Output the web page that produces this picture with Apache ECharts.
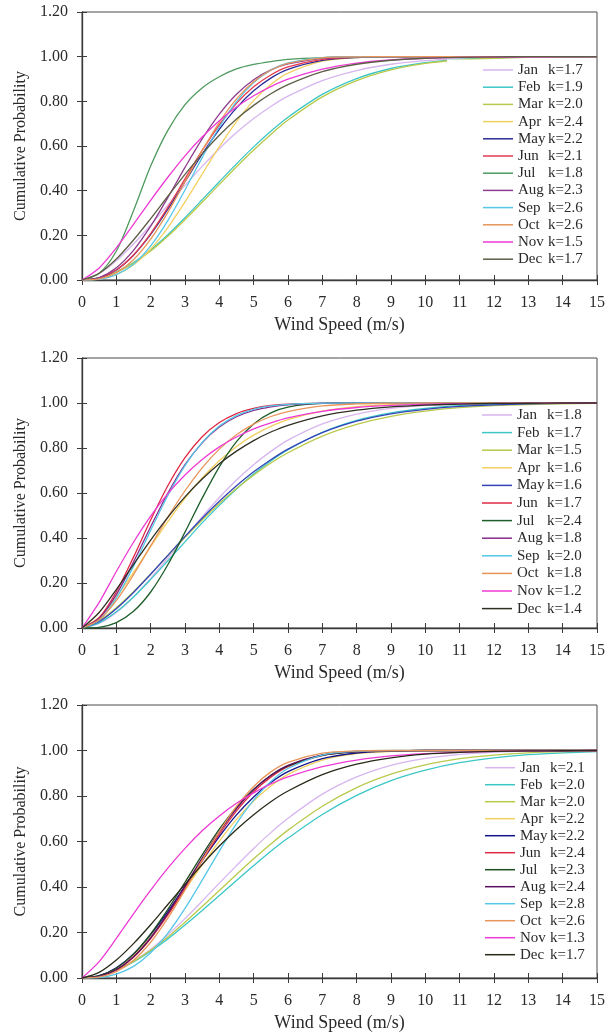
<!DOCTYPE html>
<html><head><meta charset="utf-8">
<script src="https://cdn.jsdelivr.net/npm/echarts@6/dist/echarts.min.js"></script>
<style>html,body{margin:0;padding:0;background:#fff}#c{width:608px;height:1034px}</style>
</head><body><div id="c"></div>
<script>
// ---- data ----
const windSpeed = [0,0.5,1,1.5,2,2.5,3,3.5,4,4.5,5,5.5,6,7,8,9,10,11,12,13,14,15];
const months = ['Jan','Feb','Mar','Apr','May','Jun','Jul','Aug','Sep','Oct','Nov','Dec'];
const xTicks = [0,1,2,3,4,5,6,7,8,9,10,11,12,13,14,15];
const yTicks = [0.00,0.20,0.40,0.60,0.80,1.00,1.20];

const kLabels1 = ['1.7','1.9','2.0','2.4','2.2','2.1','1.8','2.3','2.6','2.6','1.5','1.7'];
const kLabels2 = ['1.8','1.7','1.5','1.6','1.6','1.7','2.4','1.8','2.0','1.8','1.2','1.4'];
const kLabels3 = ['2.1','2.0','2.0','2.2','2.2','2.4','2.3','2.4','2.8','2.6','1.3','1.7'];

// panel 1
const p1Jan = [0,.028,.086,.161,.246,.335,.424,.509,.588,.660,.723,.777,.823,.893,.938,.966,.982,.991,.996,.998,.999,1];
const p1Feb = [0,.009,.036,.078,.135,.203,.279,.359,.440,.520,.596,.666,.729,.831,.902,.947,.973,.988,.995,.998,.999,1];
const p1Mar = [0,.009,.034,.076,.130,.196,.270,.348,.428,.507,.582,.652,.716,.820,.893,.941,.970,.985,.993,.997,.999,1];
const p1Apr = [0,.004,.024,.068,.139,.235,.350,.474,.597,.709,.803,.875,.926,.980,.996,.999,1,1,1,1,1,1];
const p1May = [0,.009,.045,.111,.204,.317,.440,.563,.675,.771,.847,.904,.943,.983,.996,.999,1,1,1,1,1,1];
const p1Jun = [0,.009,.045,.112,.208,.325,.453,.580,.695,.791,.865,.918,.954,.988,.998,1,1,1,1,1,1,1];
const p1Jul = [0,.030,.130,.310,.510,.670,.785,.860,.910,.945,.965,.978,.988,.996,.999,1,1,1,1,1,1,1];
const p1Aug = [0,.011,.055,.133,.241,.369,.504,.632,.743,.832,.897,.941,.968,.993,.999,1,1,1,1,1,1,1];
const p1Sep = [0,.003,.024,.071,.153,.266,.403,.548,.685,.799,.884,.940,.972,.996,1,1,1,1,1,1,1,1];
const p1Oct = [0,.005,.033,.091,.183,.303,.440,.579,.706,.811,.888,.939,.970,.995,.999,1,1,1,1,1,1,1];
const p1Nov = [0,.054,.144,.249,.357,.460,.556,.640,.713,.775,.825,.866,.899,.944,.971,.985,.993,.997,.998,.999,1,1];
const p1Dec = [0,.030,.094,.179,.275,.375,.473,.565,.648,.721,.782,.834,.875,.933,.966,.984,.993,.997,.999,1,1,1];

// panel 2
const p2Jan = [0,.020,.069,.138,.220,.311,.403,.494,.580,.658,.726,.785,.835,.907,.951,.976,.989,.995,.998,.999,1,1];
const p2Feb = [0,.023,.072,.138,.216,.299,.383,.467,.545,.618,.684,.742,.792,.870,.923,.956,.976,.988,.994,.997,.999,1];
const p2Mar = [0,.032,.090,.161,.240,.322,.403,.480,.553,.620,.679,.733,.779,.853,.905,.941,.964,.979,.988,.993,.996,.998];
const p2Apr = [0,.048,.138,.247,.362,.473,.576,.667,.743,.807,.857,.896,.926,.964,.984,.993,.997,.999,1,1,1,1];
const p2May = [0,.029,.086,.158,.239,.323,.407,.488,.563,.632,.694,.748,.795,.868,.919,.952,.972,.985,.992,.996,.998,.999];
const p2Jun = [0,.046,.161,.315,.480,.632,.757,.850,.913,.953,.976,.989,.995,.999,1,1,1,1,1,1,1,1];
const p2Jul = [0,.003,.024,.074,.160,.281,.426,.577,.716,.828,.907,.956,.982,.998,1,1,1,1,1,1,1,1];
const p2Aug = [0,.042,.148,.293,.450,.599,.726,.823,.893,.939,.967,.983,.992,.998,1,1,1,1,1,1,1,1];
const p2Sep = [0,.035,.133,.274,.434,.589,.722,.825,.898,.944,.972,.987,.994,.999,1,1,1,1,1,1,1,1];
const p2Oct = [0,.037,.122,.237,.365,.493,.610,.712,.795,.859,.906,.940,.962,.987,.996,.999,1,1,1,1,1,1];
const p2Nov = [0,.114,.251,.381,.497,.597,.680,.749,.805,.849,.885,.912,.934,.963,.980,.989,.994,.997,.998,.999,1,1];
const p2Dec = [0,.069,.171,.282,.391,.492,.583,.662,.730,.786,.833,.871,.901,.943,.968,.983,.991,.995,.998,.999,1,1];

// panel 3
const p3Jan = [0,.008,.033,.073,.126,.190,.261,.338,.417,.494,.569,.639,.702,.808,.884,.935,.965,.983,.992,.997,.999,1];
const p3Feb = [0,.010,.034,.071,.118,.172,.233,.297,.363,.429,.494,.557,.615,.719,.803,.868,.914,.947,.968,.982,.990,.995];
const p3Mar = [0,.009,.034,.073,.122,.180,.245,.314,.385,.455,.524,.589,.650,.755,.837,.896,.937,.964,.980,.990,.995,.997];
const p3Apr = [0,.009,.043,.101,.182,.280,.387,.497,.602,.697,.778,.844,.895,.958,.986,.996,.999,1,1,1,1,1];
const p3May = [0,.010,.045,.106,.191,.292,.404,.516,.622,.717,.796,.859,.907,.964,.989,.997,1,1,1,1,1,1];
const p3Jun = [0,.007,.035,.091,.173,.277,.394,.516,.632,.735,.819,.883,.929,.978,.995,.999,1,1,1,1,1,1];
const p3Jul = [0,.009,.043,.105,.194,.302,.421,.541,.654,.751,.830,.890,.932,.979,.995,.999,1,1,1,1,1,1];
const p3Aug = [0,.007,.036,.093,.177,.284,.404,.527,.643,.745,.828,.891,.935,.981,.996,.999,1,1,1,1,1,1];
const p3Sep = [0,.002,.017,.051,.111,.197,.306,.430,.558,.679,.782,.864,.921,.980,.997,1,1,1,1,1,1,1];
const p3Oct = [0,.005,.028,.078,.157,.263,.387,.518,.644,.754,.842,.906,.948,.988,.998,1,1,1,1,1,1,1];
const p3Nov = [0,.072,.174,.282,.386,.483,.570,.647,.712,.768,.814,.853,.884,.929,.958,.976,.986,.992,.996,.998,.999,1];
const p3Dec = [0,.025,.079,.151,.234,.323,.412,.499,.580,.653,.718,.775,.822,.894,.940,.968,.984,.992,.996,.998,.999,1];

const panel1 = [p1Jan,p1Feb,p1Mar,p1Apr,p1May,p1Jun,p1Jul,p1Aug,p1Sep,p1Oct,p1Nov,p1Dec];
const panel2 = [p2Jan,p2Feb,p2Mar,p2Apr,p2May,p2Jun,p2Jul,p2Aug,p2Sep,p2Oct,p2Nov,p2Dec];
const panel3 = [p3Jan,p3Feb,p3Mar,p3Apr,p3May,p3Jun,p3Jul,p3Aug,p3Sep,p3Oct,p3Nov,p3Dec];

// ---- styles ----
const colors1 = ['#D7B5EE','#3CC6C6','#B9C94A','#F2D060','#2B2B96','#E53950','#4E9A5E','#8E3E8E','#55C7E8','#E8955A','#EE3AD4','#5E5E48'];
const colors2 = ['#D7B5EE','#3CC6C6','#B9C94A','#F2D060','#3444B8','#E02845','#1D5E2A','#8A2A8A','#55C7E8','#E8955A','#EE3AD4','#2F2F22'];
const colors3 = ['#D7B5EE','#3CC6C6','#B9C94A','#F2D060','#14148A','#E02845','#1E4D1E','#5B0F62','#55C7E8','#E8955A','#EE3AD4','#2A2A1A'];

const FONT = '"Liberation Serif", "Times New Roman", serif';
const TXT = '#2a2a2a';
const AX = '#3a3a3a';

const panels = [
  {data: panel1, k: kLabels1, colors: colors1, top: 12, height: 268,
   legend: {left: 447, top: 59.4, rowH: 17.2, padding: [2, 1, 2, 36], bg: '#ffffff'}},
  {data: panel2, k: kLabels2, colors: colors2, top: 358, height: 270,
   legend: {left: 482, top: 406.2, rowH: 17.6, padding: 0, bg: 'transparent'}},
  {data: panel3, k: kLabels3, colors: colors3, top: 705, height: 273,
   legend: {left: 485, top: 759.2, rowH: 17.0, padding: 0, bg: 'transparent'}}
];

const grid = [], xAxis = [], yAxis = [], legend = [], series = [];
panels.forEach((P, p) => {
  grid.push({left: 82, width: 515, top: P.top, height: P.height, show: true,
    borderColor: '#4a4a4a', borderWidth: 1, backgroundColor: 'transparent'});
  const xBase = {type: 'value', gridIndex: p, min: xTicks[0], max: xTicks[xTicks.length-1], interval: 1,
    position: 'bottom', splitLine: {show: false}};
  xAxis.push(Object.assign({}, xBase, {
    axisLine: {show: true, lineStyle: {color: AX, width: 1.3}},
    axisTick: {show: true, inside: false, length: 5, lineStyle: {color: AX, width: 1}},
    axisLabel: {fontFamily: FONT, fontSize: 16, color: TXT, margin: 15},
    name: 'Wind Speed (m/s)', nameLocation: 'middle', nameGap: 36,
    nameTextStyle: {fontFamily: FONT, fontSize: 18, color: TXT}
  }));
  xAxis.push(Object.assign({}, xBase, {
    axisLine: {show: false},
    axisTick: {show: true, inside: true, length: 5, lineStyle: {color: AX, width: 1}},
    axisLabel: {show: false}
  }));
  const yBase = {type: 'value', gridIndex: p, min: yTicks[0], max: yTicks[yTicks.length-1], interval: 0.2,
    position: 'left', splitLine: {show: false}};
  yAxis.push(Object.assign({}, yBase, {
    axisLine: {show: true, lineStyle: {color: AX, width: 1.3}},
    axisTick: {show: true, inside: false, length: 5, lineStyle: {color: AX, width: 1}},
    axisLabel: {fontFamily: FONT, fontSize: 16, color: TXT, margin: 14, formatter: v => v.toFixed(2)},
    name: 'Cumulative Probability', nameLocation: 'middle', nameGap: 53,
    nameTextStyle: {fontFamily: FONT, fontSize: 16, color: TXT}
  }));
  yAxis.push(Object.assign({}, yBase, {
    axisLine: {show: false},
    axisTick: {show: true, inside: true, length: 5, lineStyle: {color: AX, width: 1}},
    axisLabel: {show: false}
  }));

  const suffix = ' '.repeat(p);
  const names = months.map(m => m + suffix);
  const L = P.legend;
  legend.push({
    show: true, orient: 'vertical', left: L.left, top: L.top, padding: L.padding,
    backgroundColor: L.bg, data: names, icon: 'rect', itemWidth: 30, itemHeight: 1.5, itemGap: 0,
    selectedMode: false,
    formatter: function (name) {
      const i = months.indexOf(name.trim());
      return '{m|' + months[i] + '}{k|k=' + P.k[i] + '}';
    },
    textStyle: {fontFamily: FONT, fontSize: 15, color: TXT, lineHeight: L.rowH,
      rich: {
        m: {fontFamily: FONT, fontSize: 15, color: TXT, width: 30, lineHeight: L.rowH},
        k: {fontFamily: FONT, fontSize: 15, color: TXT, lineHeight: L.rowH}
      }}
  });

  months.forEach((m, i) => {
    series.push({
      type: 'line', name: names[i], xAxisIndex: 2*p, yAxisIndex: 2*p,
      data: windSpeed.map((x, j) => [x, P.data[i][j]]),
      showSymbol: false, symbol: 'none', smooth: 0.3,
      color: P.colors[i], itemStyle: {color: P.colors[i]},
      lineStyle: {color: P.colors[i], width: 1.3},
      silent: true, emphasis: {disabled: true}, z: 2
    });
  });
});

const chart = echarts.init(document.getElementById('c'), null, {renderer: 'canvas'});
chart.setOption({
  animation: false, backgroundColor: '#ffffff',
  grid, xAxis, yAxis, legend, series
});
</script></body></html>
